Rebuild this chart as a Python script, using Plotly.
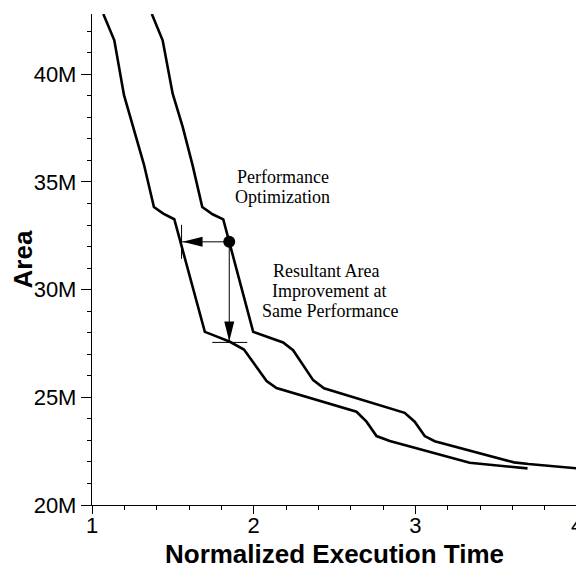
import plotly.graph_objects as go

# right-hand curve: design space before optimization
base_time = [1.37, 1.437, 1.499, 1.561, 1.622, 1.682, 1.746, 1.812, 1.997, 2.182,
             2.244, 2.368, 2.435, 2.934, 2.996, 3.058, 3.120, 3.61, 3.70, 4.0]
base_area = [42.8, 41.58, 39.10, 37.56, 35.78, 33.84, 33.50, 33.26, 28.04, 27.55,
             27.19, 25.80, 25.42, 24.28, 23.87, 23.20, 22.96, 21.98, 21.90, 21.70]

# left-hand curve: after performance optimization
opt_time = [1.07, 1.138, 1.198, 1.266, 1.321, 1.383, 1.441, 1.509, 1.698, 1.75,
            1.853, 1.94, 2.080, 2.141, 2.636, 2.698, 2.760, 2.842, 3.336, 3.694]
opt_area = [42.8, 41.58, 39.03, 37.25, 35.82, 33.84, 33.53, 33.27, 28.04, 27.89,
            27.58, 27.22, 25.76, 25.43, 24.33, 23.87, 23.20, 22.97, 21.96, 21.70]

# chosen design point and where it ends up
point_time = 1.849
point_area = 32.22
faster_time = 1.554
smaller_area = 27.55

sans = "Arial, Liberation Sans, sans-serif"
serif = "Times New Roman, Liberation Serif, serif"

traces = []
for xs, ys in [(base_time, base_area), (opt_time, opt_area)]:
    traces.append(go.Scatter(x=xs, y=ys, mode="lines",
                             line={"color": "black", "width": 2.6}))
traces.append(go.Scatter(x=[point_time], y=[point_area], mode="markers",
                         marker={"color": "black", "size": 12}))

thin = {"color": "black", "width": 1}
shapes = [
    # shafts
    dict(type="line", xref="x", yref="y", x0=point_time, y0=point_area,
         x1=faster_time, y1=point_area, line=thin),
    dict(type="line", xref="x", yref="y", x0=point_time, y0=point_area,
         x1=point_time, y1=smaller_area, line=thin),
    # arrow heads
    dict(type="path", xref="x", yref="y", xsizemode="pixel", ysizemode="pixel",
         xanchor=faster_time, yanchor=point_area, path="M1,0 L21,5 L21,-5 Z",
         fillcolor="black", line={"width": 0}),
    dict(type="path", xref="x", yref="y", xsizemode="pixel", ysizemode="pixel",
         xanchor=point_time, yanchor=smaller_area, path="M0,1 L-5,21 L5,21 Z",
         fillcolor="black", line={"width": 0}),
    # stop marks
    dict(type="line", xref="x", yref="y", ysizemode="pixel", yanchor=point_area,
         x0=faster_time, x1=faster_time, y0=-17, y1=17, line=thin),
    dict(type="line", xref="x", yref="y", xsizemode="pixel", xanchor=point_time,
         x0=-17, x1=18, y0=smaller_area, y1=smaller_area, line=thin),
]

labels = [
    ("Performance", 2.18, 35.22),
    ("Optimization", 2.18, 34.29),
    ("Resultant Area", 2.446, 30.85),
    ("Improvement at", 2.468, 29.92),
    ("Same Performance", 2.472, 28.99),
]
annotations = [
    dict(text=t, x=x, y=y, xref="x", yref="y", showarrow=False,
         font={"family": serif, "size": 18, "color": "black"})
    for t, x, y in labels
]

axis_common = dict(
    showline=True, linecolor="black", linewidth=1.3,
    ticks="outside", tickcolor="black", tickwidth=1.3,
    showgrid=False, zeroline=False, automargin=False,
    tickfont={"family": sans, "size": 22, "color": "black"},
)

# the page body has an 8px margin, so the figure is 8px smaller each way
layout = go.Layout(
    width=576, height=561,
    margin={"l": 84, "r": 7, "t": 6, "b": 64},
    paper_bgcolor="white", plot_bgcolor="white",
    showlegend=False, hovermode=False,
    xaxis=dict(axis_common, range=[1, 4], tick0=1, dtick=1, ticklen=8,
               ticklabelstandoff=-8,
               minor={"dtick": 0.2, "ticklen": 4, "ticks": "outside",
                      "tickcolor": "black", "tickwidth": 1},
               title={"text": "<b>Normalized Execution Time</b>",
                      "font": {"family": sans, "size": 26, "color": "black"}}),
    yaxis=dict(axis_common, range=[20, 42.8], tick0=20, dtick=5, ticklen=10,
               ticksuffix="M",
               minor={"dtick": 1, "ticklen": 4, "ticks": "outside",
                      "tickcolor": "black", "tickwidth": 1},
               title={"text": "<b>Area</b>",
                      "font": {"family": sans, "size": 26, "color": "black"}}),
    shapes=shapes,
    annotations=annotations,
)

fig = go.Figure(data=traces, layout=layout)
fig.write_html("out.html")
